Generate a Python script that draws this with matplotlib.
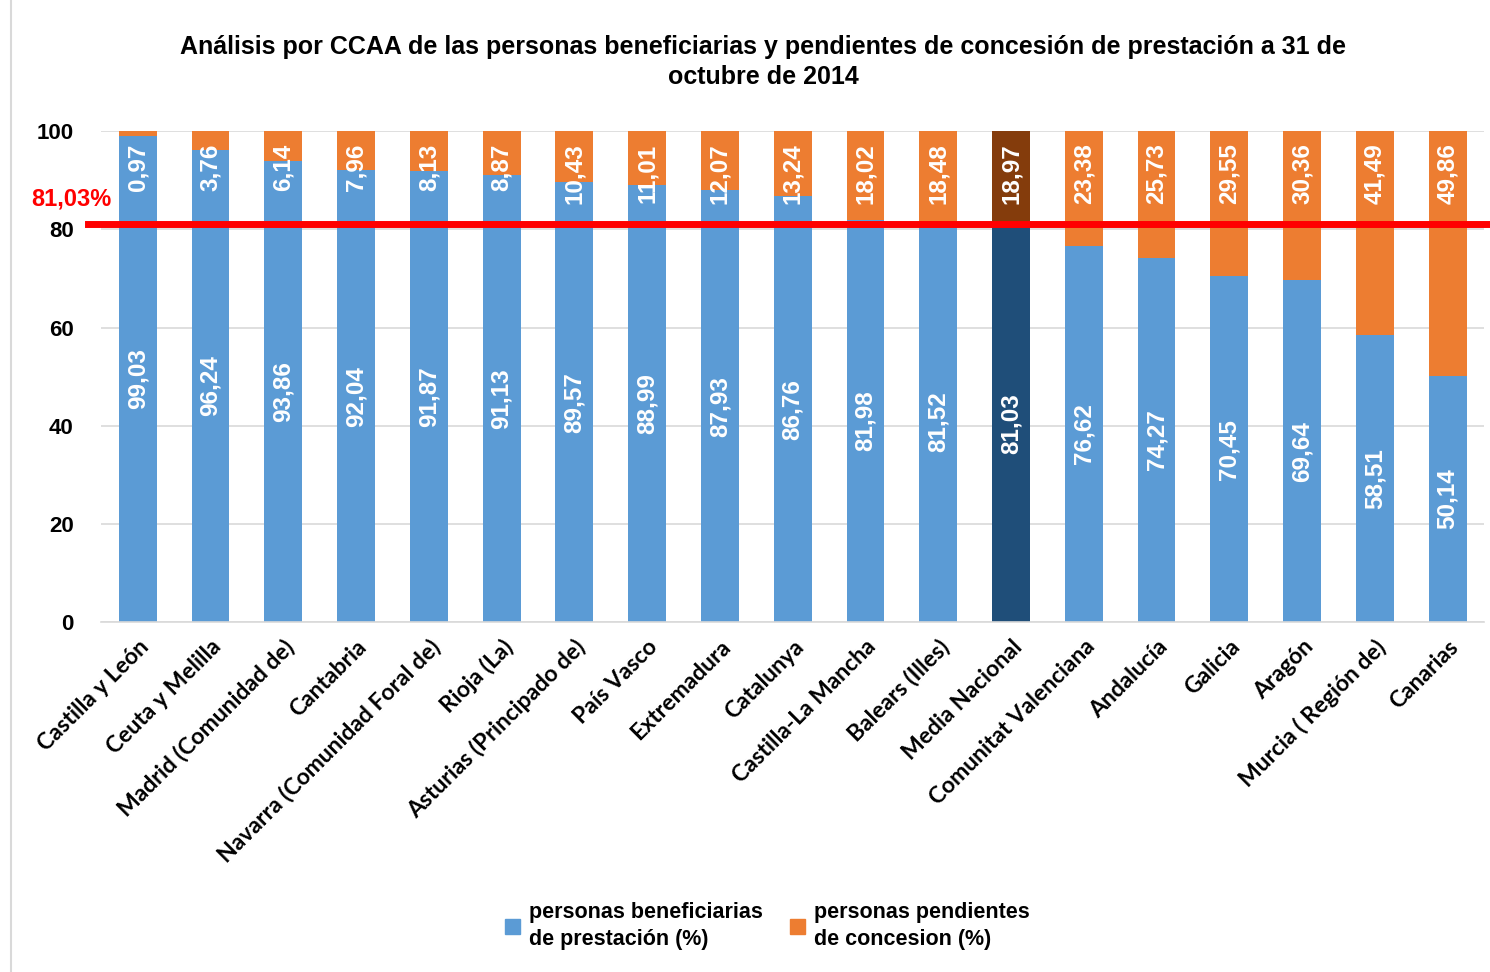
import numpy as np
import matplotlib
matplotlib.use('Agg')
import matplotlib.pyplot as plt
import matplotlib.transforms as mtransforms
from matplotlib.lines import Line2D
from matplotlib.patches import Patch

# datos por CCAA
regiones = ['Castilla y León', 'Ceuta y Melilla', 'Madrid (Comunidad de)', 'Cantabria',
            'Navarra (Comunidad Foral de)', 'Rioja (La)', 'Asturias (Principado de)',
            'País Vasco', 'Extremadura', 'Catalunya', 'Castilla-La Mancha',
            'Balears (Illes)', 'Media Nacional', 'Comunitat Valenciana', 'Andalucía',
            'Galicia', 'Aragón', 'Murcia ( Región de)', 'Canarias']
beneficiarias = [99.03, 96.24, 93.86, 92.04, 91.87, 91.13, 89.57, 88.99, 87.93, 86.76,
                 81.98, 81.52, 81.03, 76.62, 74.27, 70.45, 69.64, 58.51, 50.14]
pendientes = [0.97, 3.76, 6.14, 7.96, 8.13, 8.87, 10.43, 11.01, 12.07, 13.24,
              18.02, 18.48, 18.97, 23.38, 25.73, 29.55, 30.36, 41.49, 49.86]
media_nacional = 81.03

titulo = 'Análisis por CCAA de las personas beneficiarias y pendientes de concesión de prestación a 31 de\noctubre de 2014'

AZUL, NARANJA = '#5B9BD5', '#ED7D31'
AZUL_OSC, NARANJA_OSC = '#1F4E79', '#843C0C'

fig = plt.figure(figsize=(14.9, 9.72), dpi=100)
ax = fig.add_axes([0.068, 0.36, 0.928, 0.505])

x = np.arange(len(regiones))
col_b = [AZUL_OSC if r == 'Media Nacional' else AZUL for r in regiones]
col_p = [NARANJA_OSC if r == 'Media Nacional' else NARANJA for r in regiones]
ax.bar(x, beneficiarias, width=0.52, color=col_b, zorder=2)
ax.bar(x, pendientes, width=0.52, bottom=beneficiarias, color=col_p, zorder=2)

fmt = lambda v: ('%.2f' % v).replace('.', ',')
for i in range(len(regiones)):
    ax.text(x[i], beneficiarias[i] / 2, fmt(beneficiarias[i]), rotation=90,
            ha='center', va='center', color='white', fontsize=17.5,
            fontweight='bold', family='Liberation Sans', zorder=3)
    ax.text(x[i], 97.5, fmt(pendientes[i]), rotation=90,
            ha='center', va='top', color='white', fontsize=17.5,
            fontweight='bold', family='Liberation Sans', zorder=3)

ax.set_xlim(-0.5, len(regiones) - 0.5)
ax.set_ylim(0, 100)
ax.set_yticks(range(0, 101, 20))
ax.yaxis.grid(True, color='#D9D9D9', linewidth=1.2, zorder=0)
ax.set_axisbelow(True)
for s in ['top', 'right', 'left']:
    ax.spines[s].set_visible(False)
ax.spines['bottom'].set_color('#D9D9D9')
ax.spines['bottom'].set_linewidth(1.2)
ax.tick_params(length=0)
ax.tick_params(axis='y', pad=20)
for lab in ax.get_yticklabels():
    lab.set_fontweight('bold')
    lab.set_fontsize(16)
    lab.set_family('Liberation Sans')
ax.set_xticks(x)
ax.set_xticklabels(regiones, rotation=45, ha='right', rotation_mode='anchor',
                   fontsize=16.5, fontweight='bold', family=['Lato', 'DejaVu Sans'])
ax.tick_params(axis='x', pad=10)

# linea de la media nacional
trans = mtransforms.blended_transform_factory(fig.transFigure, ax.transData)
fig.add_artist(Line2D([88 / 1490, 1.0], [media_nacional, media_nacional],
                      transform=trans, color='#FF0000', linewidth=5, zorder=5))
fig.text(71 / 1490, 1 - 199 / 972, '81,03%', color='#FF0000', fontsize=17,
         fontweight='bold', ha='center', va='center', family='Liberation Sans')

fig.text(0.512, 1 - 62 / 972, titulo, ha='center', va='center', fontsize=18,
         fontweight='bold', linespacing=1.3,
         family=['Liberation Sans Narrow', 'Liberation Sans'])

handles = [Patch(color=AZUL), Patch(color=NARANJA)]
etiquetas = ['personas beneficiarias\nde prestación (%)',
             'personas pendientes\nde concesion (%)']
leg = fig.legend(handles, etiquetas, loc='center', bbox_to_anchor=(0.515, 1 - 926 / 972),
                 ncol=2, frameon=False, handlelength=0.7, handleheight=0.7,
                 handletextpad=0.4, columnspacing=1.3,
                 prop={'family': ['Liberation Sans Narrow', 'Liberation Sans'],
                       'weight': 'bold', 'size': 15.5})
for t in leg.get_texts():
    t.set_linespacing(1.35)

# borde del area del grafico
fig.add_artist(Line2D([11 / 1490, 11 / 1490], [0, 1], transform=fig.transFigure,
                      color='#D9D9D9', linewidth=1.5))

fig.savefig('out.png', dpi=100)
